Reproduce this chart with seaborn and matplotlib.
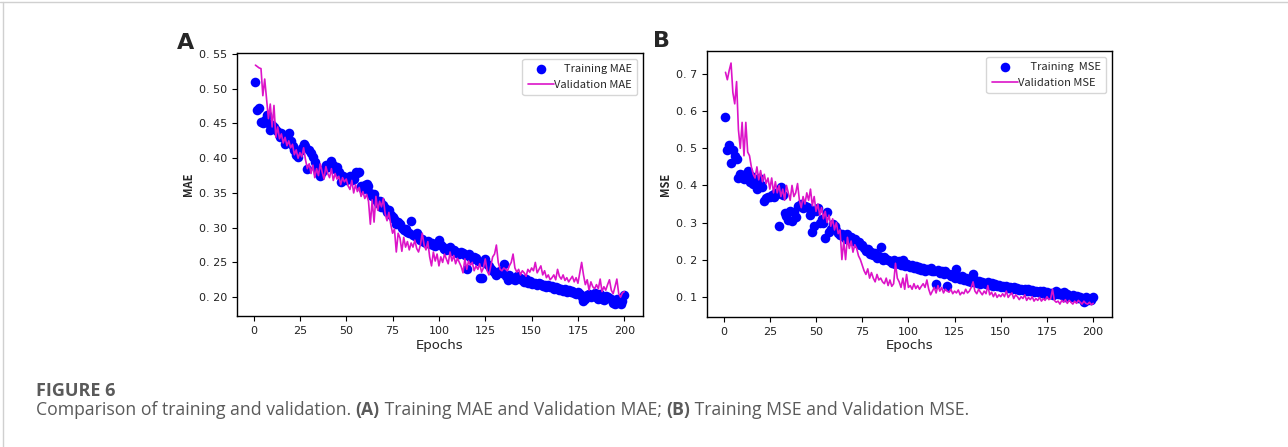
import numpy as np
import matplotlib
matplotlib.use("Agg")
import matplotlib.pyplot as plt
import matplotlib.ticker as mticker
from matplotlib.lines import Line2D
from matplotlib.text import Annotation
import seaborn as sns

# %% data (epochs 1..200)
epochs = list(range(1, 201))

train_mae = [
    0.510, 0.470, 0.473, 0.452, 0.450, 0.455, 0.462, 0.450, 0.440, 0.448,
    0.445, 0.440, 0.438, 0.430, 0.436, 0.432, 0.420, 0.428, 0.437, 0.425,
    0.418, 0.412, 0.405, 0.402, 0.410, 0.415, 0.420, 0.418, 0.385, 0.412,
    0.408, 0.402, 0.395, 0.385, 0.378, 0.375, 0.380, 0.385, 0.390, 0.388,
    0.392, 0.396, 0.390, 0.385, 0.388, 0.380, 0.366, 0.375, 0.372, 0.368,
    0.372, 0.375, 0.368, 0.370, 0.380, 0.378, 0.380, 0.360, 0.355, 0.362,
    0.363, 0.360, 0.350, 0.345, 0.348, 0.340, 0.335, 0.338, 0.330, 0.332,
    0.328, 0.322, 0.325, 0.318, 0.315, 0.312, 0.305, 0.308, 0.305, 0.300,
    0.296, 0.298, 0.294, 0.292, 0.310, 0.290, 0.288, 0.293, 0.285, 0.282,
    0.283, 0.280, 0.278, 0.281, 0.276, 0.278, 0.275, 0.273, 0.276, 0.282,
    0.275, 0.272, 0.270, 0.268, 0.270, 0.272, 0.266, 0.268, 0.265, 0.264,
    0.262, 0.265, 0.263, 0.260, 0.240, 0.262, 0.258, 0.255, 0.258, 0.256,
    0.252, 0.228, 0.227, 0.250, 0.255, 0.248, 0.245, 0.240, 0.238, 0.235,
    0.232, 0.236, 0.238, 0.235, 0.248, 0.230, 0.225, 0.232, 0.228, 0.226,
    0.225, 0.230, 0.228, 0.227, 0.225, 0.222, 0.226, 0.220, 0.223, 0.219,
    0.221, 0.220, 0.218, 0.221, 0.219, 0.216, 0.218, 0.215, 0.217, 0.214,
    0.216, 0.212, 0.215, 0.213, 0.210, 0.212, 0.209, 0.211, 0.208, 0.210,
    0.207, 0.209, 0.206, 0.205, 0.208, 0.204, 0.200, 0.195, 0.198, 0.203,
    0.205, 0.200, 0.203, 0.206, 0.200, 0.198, 0.204, 0.197, 0.196, 0.202,
    0.200, 0.199, 0.197, 0.192, 0.190, 0.198, 0.195, 0.190, 0.195, 0.203,
]

val_mae = [
    0.534, 0.532, 0.530, 0.529, 0.490, 0.514, 0.485, 0.457, 0.478, 0.445,
    0.476, 0.430, 0.445, 0.428, 0.435, 0.422, 0.430, 0.418, 0.425, 0.415,
    0.420, 0.405, 0.412, 0.400, 0.408, 0.402, 0.415, 0.398, 0.385, 0.392,
    0.378, 0.390, 0.372, 0.385, 0.375, 0.392, 0.380, 0.370, 0.388, 0.378,
    0.372, 0.385, 0.368, 0.378, 0.370, 0.374, 0.362, 0.372, 0.366, 0.370,
    0.360, 0.355, 0.368, 0.350, 0.362, 0.352, 0.358, 0.345, 0.352, 0.342,
    0.348, 0.338, 0.305, 0.340, 0.308, 0.345, 0.325, 0.338, 0.330, 0.342,
    0.320, 0.310, 0.322, 0.305, 0.292, 0.298, 0.265, 0.292, 0.285, 0.266,
    0.286, 0.272, 0.280, 0.268, 0.278, 0.272, 0.282, 0.270, 0.265, 0.275,
    0.292, 0.275, 0.268, 0.280, 0.258, 0.245, 0.265, 0.252, 0.262, 0.245,
    0.258, 0.250, 0.262, 0.255, 0.248, 0.265, 0.252, 0.260, 0.248, 0.256,
    0.250, 0.244, 0.235, 0.255, 0.240, 0.252, 0.246, 0.250, 0.238, 0.245,
    0.240, 0.248, 0.236, 0.242, 0.255, 0.238, 0.232, 0.245, 0.258, 0.262,
    0.275, 0.250, 0.240, 0.238, 0.242, 0.240, 0.238, 0.245, 0.250, 0.262,
    0.242, 0.236, 0.240, 0.232, 0.238, 0.235, 0.230, 0.240, 0.236, 0.242,
    0.238, 0.250, 0.235, 0.240, 0.245, 0.232, 0.238, 0.228, 0.232, 0.225,
    0.228, 0.232, 0.225, 0.240, 0.230, 0.226, 0.232, 0.224, 0.228, 0.222,
    0.226, 0.230, 0.222, 0.228, 0.220, 0.235, 0.250, 0.232, 0.218, 0.225,
    0.210, 0.222, 0.215, 0.212, 0.218, 0.212, 0.226, 0.208, 0.215, 0.210,
    0.218, 0.225, 0.210, 0.205, 0.215, 0.226, 0.205, 0.200, 0.206, 0.208,
]

train_mse = [
    0.585, 0.495, 0.510, 0.460, 0.495, 0.480, 0.470, 0.420, 0.432, 0.428,
    0.418, 0.430, 0.440, 0.410, 0.425, 0.405, 0.415, 0.390, 0.420, 0.400,
    0.395, 0.358, 0.365, 0.370, 0.368, 0.375, 0.370, 0.380, 0.378, 0.290,
    0.395, 0.375, 0.325, 0.318, 0.308, 0.330, 0.305, 0.328, 0.315, 0.345,
    0.345, 0.350, 0.338, 0.345, 0.342, 0.340, 0.320, 0.275, 0.290, 0.330,
    0.340, 0.300, 0.310, 0.298, 0.258, 0.328, 0.275, 0.282, 0.295, 0.290,
    0.280, 0.272, 0.265, 0.270, 0.262, 0.255, 0.268, 0.258, 0.262, 0.250,
    0.255, 0.245, 0.248, 0.240, 0.238, 0.230, 0.222, 0.228, 0.215, 0.220,
    0.212, 0.218, 0.205, 0.210, 0.235, 0.200, 0.208, 0.202, 0.198, 0.195,
    0.192, 0.198, 0.188, 0.190, 0.195, 0.185, 0.200, 0.182, 0.188, 0.185,
    0.180, 0.185, 0.178, 0.182, 0.175, 0.180, 0.172, 0.178, 0.170, 0.175,
    0.172, 0.178, 0.170, 0.168, 0.135, 0.172, 0.165, 0.170, 0.162, 0.168,
    0.130, 0.160, 0.155, 0.162, 0.150, 0.175, 0.152, 0.148, 0.155, 0.145,
    0.150, 0.142, 0.148, 0.140, 0.160, 0.145, 0.138, 0.142, 0.135, 0.140,
    0.138, 0.135, 0.140, 0.132, 0.136, 0.130, 0.134, 0.128, 0.132, 0.125,
    0.130, 0.126, 0.128, 0.124, 0.127, 0.122, 0.125, 0.120, 0.124, 0.118,
    0.122, 0.119, 0.121, 0.116, 0.120, 0.115, 0.118, 0.112, 0.116, 0.113,
    0.115, 0.110, 0.114, 0.108, 0.112, 0.106, 0.110, 0.104, 0.108, 0.115,
    0.106, 0.110, 0.104, 0.112, 0.100, 0.108, 0.102, 0.098, 0.105, 0.100,
    0.102, 0.096, 0.100, 0.094, 0.085, 0.098, 0.090, 0.095, 0.092, 0.100,
]

val_mse = [
    0.705, 0.685, 0.710, 0.730, 0.650, 0.620, 0.680, 0.550, 0.500, 0.570,
    0.480, 0.570, 0.490, 0.480, 0.450, 0.430, 0.420, 0.450, 0.415, 0.440,
    0.410, 0.430, 0.405, 0.420, 0.390, 0.420, 0.380, 0.410, 0.380, 0.400,
    0.370, 0.390, 0.360, 0.400, 0.380, 0.360, 0.400, 0.370, 0.380, 0.405,
    0.360, 0.340, 0.370, 0.350, 0.380, 0.360, 0.390, 0.345, 0.370, 0.330,
    0.350, 0.320, 0.340, 0.310, 0.330, 0.300, 0.320, 0.290, 0.310, 0.280,
    0.300, 0.270, 0.280, 0.200, 0.250, 0.200, 0.260, 0.230, 0.250, 0.220,
    0.240, 0.230, 0.210, 0.200, 0.185, 0.170, 0.160, 0.175, 0.150, 0.165,
    0.150, 0.140, 0.160, 0.145, 0.150, 0.140, 0.135, 0.150, 0.130, 0.145,
    0.128, 0.135, 0.190, 0.150, 0.140, 0.125, 0.150, 0.120, 0.160, 0.125,
    0.130, 0.120, 0.135, 0.122, 0.130, 0.120, 0.128, 0.135, 0.125, 0.145,
    0.120, 0.105, 0.115, 0.125, 0.110, 0.130, 0.115, 0.125, 0.110, 0.120,
    0.115, 0.112, 0.120, 0.108, 0.115, 0.110, 0.118, 0.105, 0.112, 0.108,
    0.120, 0.110, 0.115, 0.125, 0.140, 0.115, 0.108, 0.120, 0.112, 0.105,
    0.115, 0.108, 0.130, 0.105, 0.112, 0.100, 0.110, 0.098, 0.105, 0.100,
    0.108, 0.100, 0.115, 0.098, 0.105, 0.110, 0.095, 0.105, 0.100, 0.092,
    0.100, 0.095, 0.105, 0.090, 0.098, 0.092, 0.100, 0.088, 0.095, 0.090,
    0.098, 0.088, 0.095, 0.090, 0.100, 0.092, 0.095, 0.120, 0.090, 0.085,
    0.088, 0.080, 0.090, 0.085, 0.092, 0.082, 0.090, 0.085, 0.080, 0.088,
    0.082, 0.090, 0.085, 0.080, 0.088, 0.082, 0.080, 0.085, 0.078, 0.082,
]

xticks = [0, 25, 50, 75, 100, 125, 150, 175, 200]
panels = [
    ("A", "MAE", train_mae, val_mae, "    Training MAE", "Validation MAE",
     [0.20, 0.25, 0.30, 0.35, 0.40, 0.45, 0.50, 0.55], 2),
    ("B", "MSE", train_mse, val_mse, "     Training  MSE", "Validation MSE",
     [0.1, 0.2, 0.3, 0.4, 0.5, 0.6, 0.7], 1),
]

caption_title = "FIGURE 6"
caption_pieces = [("Comparison of training and validation. ", 'normal'), ("(A)", 'bold'),
                  (" Training MAE and Validation MAE; ", 'normal'), ("(B)", 'bold'),
                  (" Training MSE and Validation MSE.", 'normal')]

# %% style
sns.set_style("ticks")
plt.rcParams['font.family'] = ['DejaVu Sans']
plt.rcParams['axes.edgecolor'] = 'black'
plt.rcParams['axes.linewidth'] = 1.0

BLUE = "#0000FF"
MAGENTA = "#DC14C8"
CJK = ['Noto Sans CJK SC', 'DejaVu Sans']

fig = plt.figure(figsize=(12.88, 4.47), dpi=100)
axes_pos = [[0.184, 0.293, 0.315, 0.588], [0.549, 0.291, 0.314, 0.595]]
tag_x = [-0.148, -0.135]

for (tag, name, tr, va, lab_tr, lab_va, yticks, dec), pos, tx in zip(panels, axes_pos, tag_x):
    ax = fig.add_axes(pos)
    sns.scatterplot(x=epochs, y=tr, ax=ax, color=BLUE, s=48, linewidth=0,
                    label=lab_tr, legend=False)
    sns.lineplot(x=epochs, y=va, ax=ax, color=MAGENTA, linewidth=1.2,
                 label=lab_va, legend=False)
    ax.set_xticks(xticks)
    ax.set_yticks(yticks)
    ax.yaxis.set_major_formatter(
        mticker.FuncFormatter(lambda v, _, d=dec: f"{v:.{d}f}".replace(".", ". ")))
    ax.tick_params(labelsize=8, length=3.5, width=0.8, color='black', labelcolor='#222222')
    ax.set_xlabel("Epochs", fontsize=9.5, labelpad=2, color='#222222')
    ax.set_ylabel(name, fontsize=8, fontweight='bold', labelpad=3, family=CJK)
    for sp in ax.spines.values():
        sp.set_visible(True)
        sp.set_color('black')
    leg = ax.legend(loc='upper right', frameon=True, handlelength=2.3,
                    handletextpad=0.0, borderpad=0.5, labelspacing=0.5,
                    prop={'family': CJK, 'size': 8})
    leg.get_frame().set_edgecolor('#cccccc')
    ax.text(tx, 1.0, tag, transform=ax.transAxes,
            fontsize=16, fontweight='bold', va='bottom', ha='left')

# %% caption
cap_color = '#5a5a5a'
fig.text(36 / 1288, 1 - 396 / 447, caption_title, fontsize=13, color=cap_color,
         family='Open Sans', fontweight='bold', va='baseline')
prev = fig.text(36 / 1288, 1 - 419 / 447, caption_pieces[0][0], fontsize=12.7,
                color=cap_color, family='Open Sans', fontweight=caption_pieces[0][1],
                va='bottom')
for txt, w in caption_pieces[1:]:
    prev = fig.add_artist(Annotation(txt, xy=(1, 0), xycoords=prev, va='bottom',
                                     ha='left', fontsize=12.7, color=cap_color,
                                     family='Open Sans', fontweight=w,
                                     annotation_clip=False))

# thin page border lines
fig.add_artist(Line2D([0, 1], [0.996, 0.996], transform=fig.transFigure,
                      color='#d0d0d0', linewidth=1))
fig.add_artist(Line2D([0.0025, 0.0025], [0, 0.996], transform=fig.transFigure,
                      color='#d0d0d0', linewidth=1))

fig.savefig("out.png", dpi=100)
